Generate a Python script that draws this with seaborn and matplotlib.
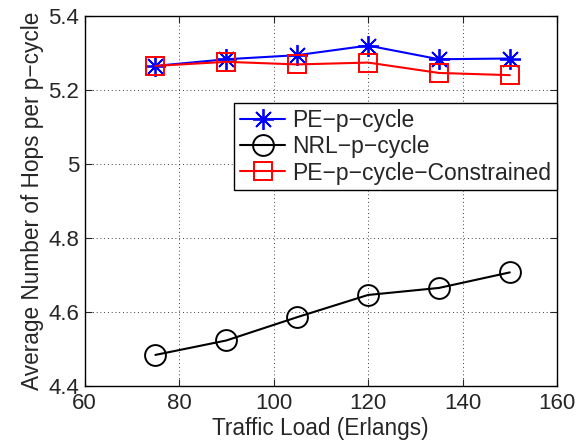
import matplotlib
matplotlib.use("Agg")
import matplotlib.pyplot as plt
import pandas as pd
import seaborn as sns

# Data
load = [75, 90, 105, 120, 135, 150]
pe_p_cycle = [5.265, 5.283, 5.294, 5.320, 5.283, 5.285]
nrl_p_cycle = [4.484, 4.523, 4.586, 4.646, 4.665, 4.707]
pe_constrained = [5.265, 5.276, 5.269, 5.274, 5.246, 5.240]

df = pd.DataFrame({
    "load": load,
    "PE-p-cycle": pe_p_cycle,
    "NRL-p-cycle": nrl_p_cycle,
    "PE-p-cycle-Constrained": pe_constrained,
})

sns.set_style("ticks")
plt.rcParams["font.family"] = ["Liberation Sans", "DejaVu Sans"]

fig = plt.figure(figsize=(5.87, 4.48), dpi=100)
ax = fig.add_axes([0.144, 0.1384, 0.805, 0.826])

sns.lineplot(data=df, x="load", y="PE-p-cycle", ax=ax, color="#0000ff",
             marker=(8, 2, 0), markersize=15, markeredgewidth=1.3,
             markeredgecolor="#0000ff",
             linewidth=1.5, label="PE\u2212p\u2212cycle")
sns.lineplot(data=df, x="load", y="NRL-p-cycle", ax=ax, color="black",
             marker="o", markersize=15, markerfacecolor="none",
             markeredgecolor="black", markeredgewidth=1.4,
             linewidth=1.5, label="NRL\u2212p\u2212cycle")
sns.lineplot(data=df, x="load", y="PE-p-cycle-Constrained", ax=ax, color="#ff0000",
             marker="s", markersize=13, markerfacecolor="none",
             markeredgecolor="#ff0000", markeredgewidth=1.4,
             linewidth=1.5, label="PE\u2212p\u2212cycle\u2212Constrained")

ax.set_xlim(60, 160)
ax.set_ylim(4.4, 5.4)
ax.set_xticks([60, 80, 100, 120, 140, 160])
ax.set_yticks([4.4, 4.6, 4.8, 5.0, 5.2, 5.4])
ax.set_yticklabels(["4.4", "4.6", "4.8", "5", "5.2", "5.4"])
ax.set_xlabel("Traffic Load (Erlangs)", fontsize=16.3, labelpad=2)
ax.set_ylabel("Average Number of Hops per p\u2212cycle", fontsize=16.3, labelpad=3)
ax.tick_params(direction="in", top=True, right=True, labelsize=16,
               length=5, width=0.8)
ax.tick_params(axis="x", pad=5)
ax.tick_params(axis="y", pad=4)
ax.grid(True, linestyle=(0, (1, 3.5)), color="black", linewidth=0.6)
for s in ax.spines.values():
    s.set_visible(True)
    s.set_linewidth(1.0)
    s.set_color("black")

leg = ax.legend(loc="upper right", bbox_to_anchor=(1.0, 0.765), fontsize=16.5,
                frameon=True, fancybox=False, edgecolor="black",
                borderpad=0.25, labelspacing=0.15, handlelength=2.0,
                handletextpad=0.3, borderaxespad=0, framealpha=1)
leg.get_frame().set_linewidth(1.0)

fig.savefig("out.png", dpi=100)
